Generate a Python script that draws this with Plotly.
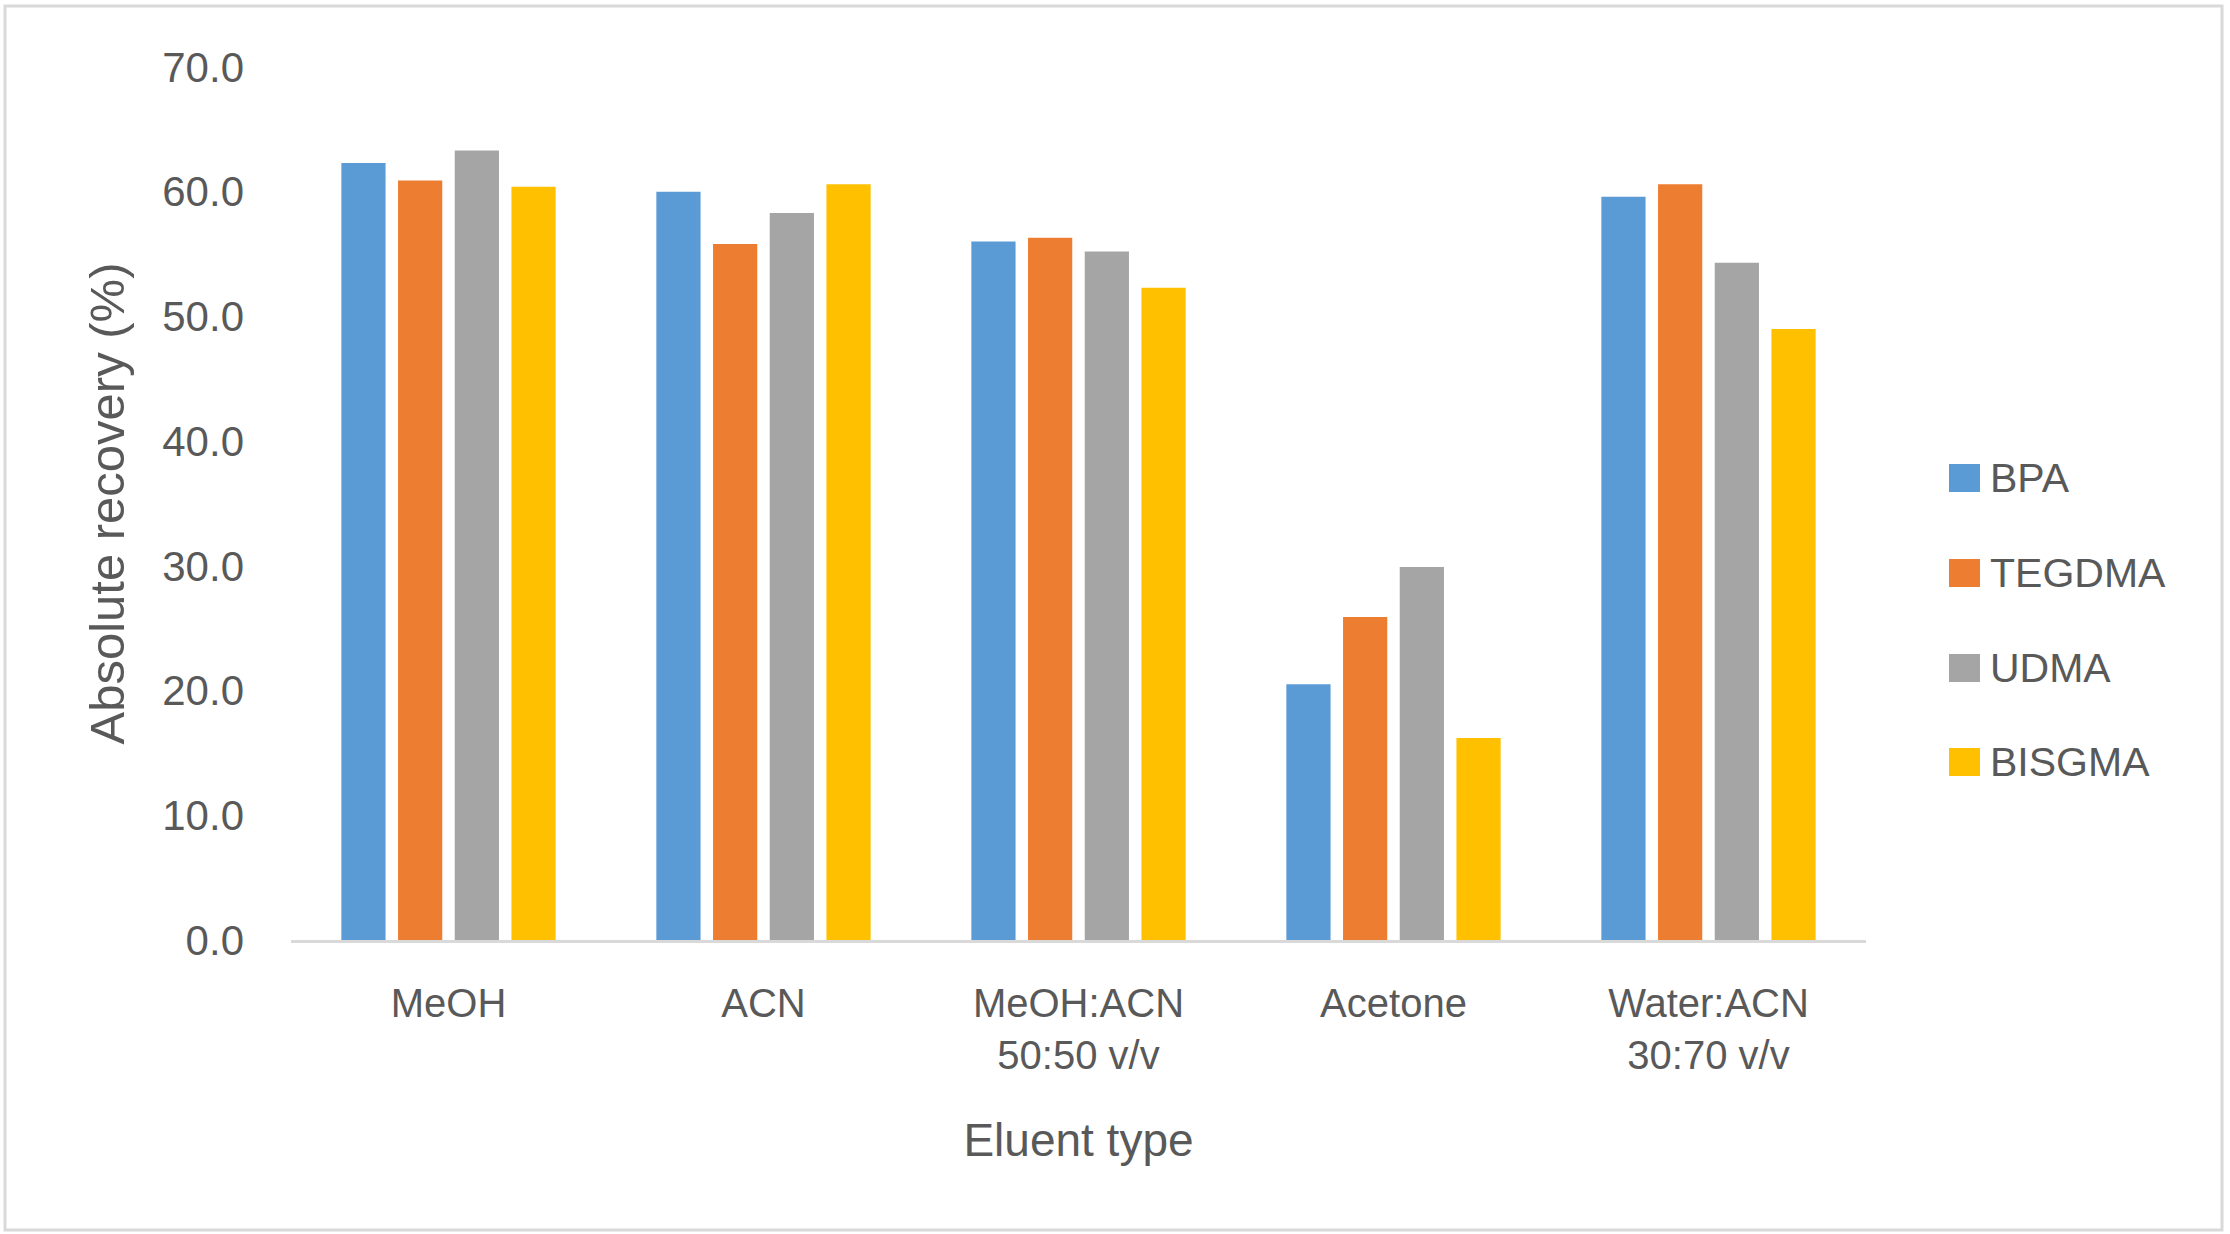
import plotly.graph_objects as go

categories = ["MeOH", "ACN", "MeOH:ACN<br>50:50 v/v", "Acetone", "Water:ACN<br>30:70 v/v"]
series_names = ["BPA", "TEGDMA", "UDMA", "BISGMA"]
bpa = [62.3, 60.0, 56.0, 20.5, 59.6]
tegdma = [60.9, 55.8, 56.3, 25.9, 60.6]
udma = [63.3, 58.3, 55.2, 29.9, 54.3]
bisgma = [60.4, 60.6, 52.3, 16.2, 49.0]
series_values = [bpa, tegdma, udma, bisgma]
colors = ["#5B9BD5", "#ED7D31", "#A5A5A5", "#FFC000"]
y_ticks = [0, 10, 20, 30, 40, 50, 60, 70]

W, H = 2230, 1234
L, R, T, B = 291, 2230 - 1866, 67, 1234 - 940
PW, PH = W - L - R, H - T - B
FONT = "Liberation Sans"
TXT = "#595959"

def px2paper_x(px):
    return (px - L) / PW

def px2paper_y(py):
    return (H - B - py) / PH

fig = go.Figure()
for name, vals, col in zip(series_names, series_values, colors):
    fig.add_trace(go.Bar(x=categories, y=vals, name=name, marker_color=col,
                         marker_line_width=0, showlegend=False))

shapes = []
annotations = []
# custom legend
leg_y = [478, 573, 668, 762]
for name, col, yy in zip(series_names, colors, leg_y):
    shapes.append(dict(type="rect", xref="paper", yref="paper",
                       x0=px2paper_x(1949), x1=px2paper_x(1980),
                       y0=px2paper_y(yy + 14), y1=px2paper_y(yy - 14),
                       fillcolor=col, line_width=0))
    annotations.append(dict(text=name, xref="paper", yref="paper",
                            x=px2paper_x(1988), y=px2paper_y(yy),
                            xanchor="left", yanchor="middle", showarrow=False,
                            font=dict(family=FONT, size=41, color=TXT)))
# outer border
shapes.append(dict(type="rect", xref="paper", yref="paper",
                   x0=px2paper_x(5), x1=px2paper_x(2222),
                   y0=px2paper_y(1230), y1=px2paper_y(6),
                   line=dict(color="#d9d9d9", width=3), fillcolor="rgba(0,0,0,0)"))

fig.update_layout(
    width=W, height=H, autosize=False,
    margin=dict(l=L, r=R, t=T, b=B, pad=0),
    paper_bgcolor="white", plot_bgcolor="white",
    barmode="group", bargap=0.28, bargroupgap=0.22,
    font=dict(family=FONT, size=40, color=TXT),
    shapes=shapes, annotations=annotations,
    xaxis=dict(showline=True, linecolor="#d9d9d9", linewidth=3, showgrid=False,
               ticks="", ticklabelstandoff=26,
               tickfont=dict(family=FONT, size=40, color=TXT),
               title=dict(text="Eluent type", font=dict(family=FONT, size=46, color=TXT), standoff=48)),
    yaxis=dict(range=[0, 70], tickvals=y_ticks, tickformat=".1f", showgrid=False,
               showline=False, zeroline=False, ticks="", ticklabelstandoff=46,
               tickfont=dict(family=FONT, size=42, color=TXT),
               title=dict(text="Absolute recovery (%)", font=dict(family=FONT, size=49, color=TXT), standoff=22)),
)

fig.write_html("out.html", config={"displayModeBar": False},
               post_script="document.body.style.margin='0';document.body.style.overflow='hidden';")
